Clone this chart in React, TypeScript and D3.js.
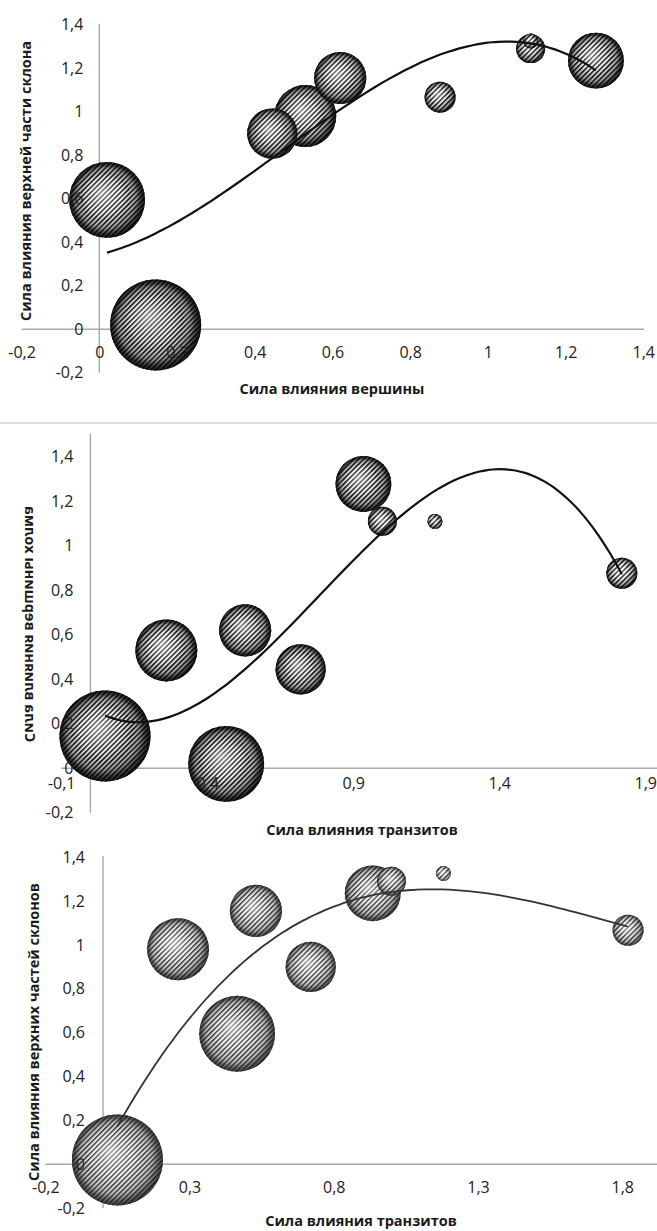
import { useEffect, useRef } from "react";
import * as d3 from "d3";

// one entry per site, shared by the three charts
const transit = [0.05, 0.26, 0.465, 0.53, 0.72, 0.935, 1.0, 1.18, 1.82];
const summit = [0.145, 0.53, 0.02, 0.62, 0.445, 1.278, 1.11, 1.11, 0.877];
const upperSlope = [0.02, 0.98, 0.595, 1.155, 0.9, 1.235, 1.29, 1.325, 1.067];
const bubbleSize = [2.07, 0.96, 1.44, 0.68, 0.63, 0.78, 0.21, 0.056, 0.24];

const ticksStep02 = [-0.2, 0, 0.2, 0.4, 0.6, 0.8, 1, 1.2, 1.4];
const ticksX2 = [-0.1, 0.4, 0.9, 1.4, 1.9];
const ticksX3 = [-0.2, 0.3, 0.8, 1.3, 1.8];

const titleSummit = "Сила влияния вершины";
const titleTransit = "Сила влияния транзитов";
const titleUpper1 = "Сила влияния верхней части склона";
const titleSummitHill = "Сила влияния вершины холма";
const titleUpper3 = "Сила влияния верхних частей склонов";

const W = 657,
  H = 1231;

const charts = [
  {
    xs: summit, ys: upperSlope,
    xDom: [-0.2, 1.4], xRange: [21.6, 643.3],
    yDom: [-0.2, 1.4], yRange: [372.8, 24.7],
    xTicks: ticksStep02, yTicks: ticksStep02,
    xLabelDy: 23, yLabelGap: 16, xAxisEnd: 644,
    xTitle: titleSummit, xTitleAt: [332, 388],
    yTitle: titleUpper1, yTitleAt: [25, 181], flip: false,
    theme: "dark",
  },
  {
    xs: transit, ys: summit,
    xDom: [-0.1, 1.9], xRange: [61.2, 645.2],
    yDom: [-0.2, 1.5], yRange: [812.8, 434.6],
    xTicks: ticksX2, yTicks: ticksStep02,
    xLabelDy: 15, yLabelGap: 17, xAxisEnd: 657,
    xTitle: titleTransit, xTitleAt: [362, 829],
    yTitle: titleSummitHill, yTitleAt: [30, 624], flip: true,
    theme: "dark",
  },
  {
    xs: transit, ys: upperSlope,
    xDom: [-0.2, 1.8], xRange: [45.3, 622.3],
    yDom: [-0.2, 1.4], yRange: [1208.2, 857.1],
    xTicks: ticksX3, yTicks: ticksStep02,
    xLabelDy: 23, yLabelGap: 18, xAxisEnd: 657,
    xTitle: titleTransit, xTitleAt: [361, 1220],
    yTitle: titleUpper3, yTitleAt: [33, 1032], flip: false,
    theme: "light",
  },
];

const fmt = (v: number) => {
  const r = Math.round(v * 10) / 10;
  return r === 0 ? "0" : String(r).replace(".", ",");
};

// least squares polynomial, same as a spreadsheet trendline
function polyfit(xs: number[], ys: number[], deg: number) {
  const n = deg + 1;
  const A = Array.from({ length: n }, () => new Array(n + 1).fill(0));
  for (let r = 0; r < n; r++) {
    for (let c = 0; c < n; c++) A[r][c] = d3.sum(xs, (x) => Math.pow(x, r + c));
    A[r][n] = d3.sum(xs.map((x, i) => ys[i] * Math.pow(x, r)));
  }
  for (let i = 0; i < n; i++) {
    let p = i;
    for (let k = i + 1; k < n; k++) if (Math.abs(A[k][i]) > Math.abs(A[p][i])) p = k;
    [A[i], A[p]] = [A[p], A[i]];
    for (let k = i + 1; k < n; k++) {
      const f = A[k][i] / A[i][i];
      for (let j = i; j <= n; j++) A[k][j] -= f * A[i][j];
    }
  }
  const coef = new Array(n).fill(0);
  for (let i = n - 1; i >= 0; i--) {
    let s = A[i][n];
    for (let j = i + 1; j < n; j++) s -= A[i][j] * coef[j];
    coef[i] = s / A[i][i];
  }
  return coef;
}

const FONT = "'Open Sans', sans-serif";
const TICK_SIZE = 16;

export default function App() {
  const ref = useRef<SVGSVGElement>(null);

  useEffect(() => {
    if (!ref.current) return;
    const svg = d3.select(ref.current);
    svg.selectAll("*").remove();

    const defs = svg.append("defs");
    const themes: any = {
      dark: { stripe: "#0c0c0c", sw: 1.6, base: ["#ffffff", "#f0f0f0", "#a0a0a0", "#353535"], shade: [0.5, 0.6] },
      light: { stripe: "#333333", sw: 1.5, base: ["#ffffff", "#f4f4f4", "#c0c0c0", "#606060"], shade: [0.55, 0.4] },
    };
    Object.entries(themes).forEach(([k, t]: any) => {
      const pat = defs
        .append("pattern")
        .attr("id", "stripes-" + k)
        .attr("patternUnits", "userSpaceOnUse")
        .attr("width", 3.5)
        .attr("height", 3.5)
        .attr("patternTransform", "rotate(45)");
      pat.append("rect").attr("width", t.sw).attr("height", 3.5).attr("fill", t.stripe);

      const base = defs
        .append("radialGradient")
        .attr("id", "base-" + k)
        .attr("cx", 0.5).attr("cy", 0.5).attr("r", 0.5)
        .attr("fx", 0.42).attr("fy", 0.4);
      [0, 0.45, 0.8, 1].forEach((o, i) =>
        base.append("stop").attr("offset", o).attr("stop-color", t.base[i])
      );

      const shade = defs
        .append("radialGradient")
        .attr("id", "shade-" + k)
        .attr("cx", 0.5).attr("cy", 0.5).attr("r", 0.5)
        .attr("fx", 0.42).attr("fy", 0.4);
      shade.append("stop").attr("offset", 0).attr("stop-color", "#fff").attr("stop-opacity", t.shade[0]);
      shade.append("stop").attr("offset", 0.35).attr("stop-color", "#fff").attr("stop-opacity", 0.2);
      shade.append("stop").attr("offset", 0.65).attr("stop-color", "#fff").attr("stop-opacity", 0);
      shade.append("stop").attr("offset", 0.88).attr("stop-color", "#000").attr("stop-opacity", t.shade[1] * 0.45);
      shade.append("stop").attr("offset", 1).attr("stop-color", "#000").attr("stop-opacity", t.shade[1]);
    });

    // separator above the second chart
    svg.append("line")
      .attr("x1", 0).attr("x2", W).attr("y1", 423).attr("y2", 423)
      .attr("stroke", "#bdbdbd").attr("stroke-width", 1.2);

    const r = d3.scaleSqrt().domain([0, d3.max(bubbleSize) as number]).range([0, 45.5]);

    charts.forEach((c) => {
      const x = d3.scaleLinear().domain(c.xDom).range(c.xRange);
      const y = d3.scaleLinear().domain(c.yDom).range(c.yRange);
      const g = svg.append("g");

      // axis lines
      g.append("line")
        .attr("x1", c.xRange[0]).attr("x2", c.xAxisEnd)
        .attr("y1", y(0)).attr("y2", y(0))
        .attr("stroke", "#a8a8a8").attr("stroke-width", 1.4);
      g.append("line")
        .attr("x1", x(0)).attr("x2", x(0))
        .attr("y1", c.yRange[0]).attr("y2", c.yRange[1] - 1)
        .attr("stroke", "#a8a8a8").attr("stroke-width", 1.4);

      // bubbles, biggest first
      const pts = c.xs
        .map((v, i) => ({ x: v, y: c.ys[i], s: bubbleSize[i] }))
        .sort((a, b) => b.s - a.s);
      const b = g.selectAll("g.bubble").data(pts).enter().append("g");
      ["base", "stripes", "shade"].forEach((layer) =>
        b.append("circle")
          .attr("cx", (d) => x(d.x)).attr("cy", (d) => y(d.y)).attr("r", (d) => r(d.s))
          .attr("fill", `url(#${layer}-${c.theme})`)
      );

      // cubic trendline
      const coef = polyfit(c.xs, c.ys, 3);
      const [lo, hi] = d3.extent(c.xs) as [number, number];
      const trend = d3.range(0, 81).map((i) => {
        const xv = lo + ((hi - lo) * i) / 80;
        return [xv, coef.reduce((s, a, k) => s + a * Math.pow(xv, k), 0)];
      });
      g.append("path")
        .attr("d", d3.line().x((d) => x(d[0])).y((d) => y(d[1])).curve(d3.curveMonotoneX)(trend as any))
        .attr("fill", "none")
        .attr("stroke", c.theme === "dark" ? "#111" : "#333")
        .attr("stroke-width", c.theme === "dark" ? 2.2 : 1.8);

      // tick labels (on top, like the original)
      const xa = g.append("g")
        .attr("transform", `translate(0,${y(0)})`)
        .call(d3.axisBottom(x).tickValues(c.xTicks).tickFormat((v: any) => fmt(v)).tickSize(0).tickPadding(c.xLabelDy - 5.5));
      const ya = g.append("g")
        .attr("transform", `translate(${x(0)},0)`)
        .call(d3.axisLeft(y).tickValues(c.yTicks).tickFormat((v: any) => fmt(v)).tickSize(0).tickPadding(c.yLabelGap));
      [xa, ya].forEach((a) => {
        a.select(".domain").remove();
        a.selectAll("text")
          .attr("font-family", FONT)
          .attr("font-size", TICK_SIZE)
          .attr("fill", "#222");
      });

      g.append("text")
        .attr("x", c.xTitleAt[0]).attr("y", c.xTitleAt[1])
        .attr("text-anchor", "middle").attr("dominant-baseline", "central")
        .attr("font-family", FONT).attr("font-weight", "bold").attr("font-size", 14.5)
        .attr("fill", "#1a1a1a")
        .text(c.xTitle);
      g.append("text")
        .attr("transform", `translate(${c.yTitleAt[0]},${c.yTitleAt[1]}) rotate(-90)${c.flip ? " scale(1,-1)" : ""}`)
        .attr("text-anchor", "middle").attr("dominant-baseline", "central")
        .attr("font-family", FONT).attr("font-weight", "bold").attr("font-size", 14.5)
        .attr("fill", "#1a1a1a")
        .text(c.yTitle);
    });
  }, []);

  return (
    <svg
      ref={ref}
      width={W}
      height={H}
      style={{ position: "absolute", left: 0, top: 0, display: "block", background: "#fff" }}
    />
  );
}
